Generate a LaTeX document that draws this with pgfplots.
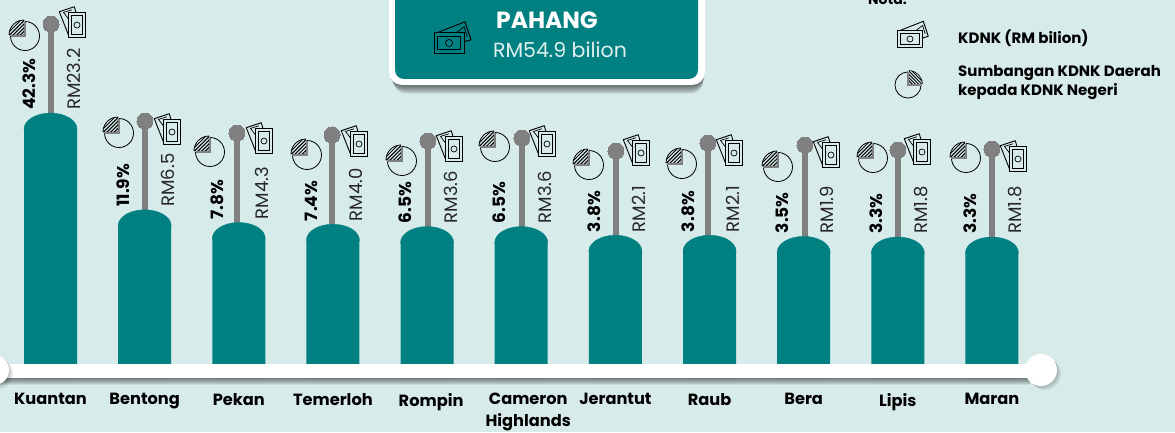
\documentclass[border=0pt]{standalone}
\usepackage{fontspec}
\usepackage{pgfplots}
\usepackage{pgfplotstable}
\pgfplotsset{compat=1.18}
\setmainfont{Poppins}
\definecolor{bg}{HTML}{D7EBEA}
\definecolor{tealbar}{HTML}{008080}
\definecolor{stem}{HTML}{808080}

% value, share of state GDP
\pgfplotstableread{
x gdp share
0 23.2 42.3
1 6.5 11.9
2 4.3 7.8
3 4.0 7.4
4 3.6 6.5
5 3.6 6.5
6 2.1 3.8
7 2.1 3.8
8 1.9 3.5
9 1.8 3.3
10 1.8 3.3
}\kdnk

% where the stem tops and the icons sit, in picture pixels
\pgfplotstableread{
sx sy px py mx my
51 24 25 36 77 25
145 121 119 133 172 132
237 133 210 152 264 141
332 135 307 155 359 144
428 141 402 161 454 149
522 138 495 147 547 144
616 151 589 165 641 153
708 143 682 164 734 153
805 145 778 167 831 155
898 150 873 158 922 152
992 149 966 158 1018 159
}\icons

\newcommand{\moneyicon}{%
  \draw[black,line width=1pt] (-8.5,-12.5) rectangle (8.5,12.5);
  \draw[black,line width=.7pt] (-5.5,-9.5) rectangle (5.5,9.5);
  \draw[black,line width=.7pt] (0,0) circle (3);
  \draw[black,line width=.9pt,line join=round] (-8.5,-10) -- (-17.7,13.3) -- (-2.7,18.3) -- (-1,12.5);
  \draw[black,line width=.7pt] (-8.5,6) -- (-13.5,12.6) -- (-5,15.2);
}
\newcommand{\pieicon}{%
  \draw[black,line width=.8pt] (0,14.5) arc (90:-180:14.5);
  \begin{scope}
    \clip (-1,1) -- (-16,1) arc (180:90:15) -- cycle;
    \foreach \k in {-18,-14.4,...,4} {
      \draw[black,line width=1pt] (\k-4,-2) -- (\k+18,20);
    }
  \end{scope}
  \draw[black,line width=.6pt] (-16,1) arc (180:90:15);
  \draw[stem,line width=1.5pt] (-14.5,0) -- (0,0) -- (0,14);
}
% top of a bar, origin at its shoulder
\pgfdeclareplotmark{dome}{%
  \begin{scope}[x=1pt,y=1pt]
    \fill[tealbar] (-26.5,-.5) -- (-26.5,0) arc (180:0:26.5 and 16) -- (26.5,-.5) -- cycle;
  \end{scope}
}
\pgfdeclareplotmark{money}{\begin{scope}[x=1pt,y=1pt]\moneyicon\end{scope}}
\pgfdeclareplotmark{pie}{\begin{scope}[x=1pt,y=1pt]\pieicon\end{scope}}

\begin{document}
\begin{tikzpicture}[x=1pt,y=1pt]
\path[use as bounding box] (0,0) rectangle (1175,432);
\clip (0,0) rectangle (1175,432);
\fill[bg] (0,0) rectangle (1175,432);

\begin{axis}[
    at={(0pt,54pt)}, anchor=south west,
    scale only axis, width=1175pt, height=378pt,
    xmin=-0.5364, xmax=11.944,
    ymin=0, ymax=65.285,
    axis line style={draw=none},
    tick style={draw=none},
    ytick=\empty,
    xtick={0,...,10},
    xticklabels={Kuantan,Bentong,Pekan,Temerloh,\hspace*{8pt}Rompin,\hspace*{14pt}Cameron\\\hspace*{14pt}Highlands,Jerantut,Raub,Bera,Lipis,Maran},
    xticklabel style={font=\fontsize{16.2}{22}\selectfont\bfseries, align=center, anchor=north, inner sep=0pt, yshift=-15pt},
    clip=false,
]
% stems with their round heads
\addplot[ycomb, stem, line width=5.4pt, mark=*, mark size=8pt, mark options={fill=stem, draw=stem, line width=0pt}]
    table[x expr=(\thisrow{sx}-50.5)/94.15, y expr=(378-\thisrow{sy})/5.79] {\icons};
% bars and their domed tops
\addplot[ybar, bar width=53pt, bar shift=0pt, fill=tealbar, draw=none]
    table[x=x, y expr=\thisrow{gdp}+19.79] {\kdnk};
\addplot[only marks, mark=dome]
    table[x=x, y expr=\thisrow{gdp}+19.79] {\kdnk};
% icons
\addplot[only marks, mark=money]
    table[x expr=(\thisrow{mx}-50.5)/94.15, y expr=(378-\thisrow{my})/5.79] {\icons};
\addplot[only marks, mark=pie]
    table[x expr=(\thisrow{px}-50.5)/94.15, y expr=(378-\thisrow{py})/5.79] {\icons};
% rotated labels
\addplot[only marks, mark=none, point meta=explicit symbolic,
    nodes near coords={RM\pgfplotspointmeta},
    every node near coord/.style={xshift=23.5pt, yshift=19pt, rotate=90, anchor=west, inner sep=0pt, font=\fontsize{18}{18}\selectfont, text=black!85}]
    table[x=x, y expr=\thisrow{gdp}+19.79, meta=gdp] {\kdnk};
\addplot[only marks, mark=none, point meta=explicit symbolic,
    nodes near coords={\pgfplotspointmeta\%},
    every node near coord/.style={xshift=-21.5pt, yshift=19pt, rotate=90, anchor=west, inner sep=0pt, font=\fontsize{17}{17}\selectfont\bfseries, text=black}]
    table[x=x, y expr=\thisrow{gdp}+19.79, meta=share] {\kdnk};
\end{axis}

% white base line with its shadow
\foreach \i in {1,...,7} {
  \fill[black,opacity=.08] (-10,54-\i) rectangle (1030,68-\i);
}
\fill[white] (-10,54) rectangle (1040,68);
\foreach \i in {1,...,4} {
  \fill[black,opacity=.06] (1041+\i,62-\i) circle (16);
  \fill[black,opacity=.06] (-6+\i,62-\i) circle (15);
}
\fill[white] (1041,62) circle (16);
\fill[white] (-6,62) circle (15);

% state box
\foreach \i in {1,...,9} {
  \fill[black,opacity=.07,rounded corners=13pt] (389+.5*\i,347-\i) rectangle (705-.2*\i,450);
}
\fill[white,rounded corners=13pt] (389,347) rectangle (705,450);
\fill[tealbar,rounded corners=9pt] (395,353) rectangle (698,450);
\node[text=white,font=\fontsize{23.4}{23}\selectfont\bfseries,inner sep=0pt] at (547,412) {PAHANG};
\node[text=white!88!tealbar,font=\fontsize{20.5}{21}\selectfont,inner sep=0pt] at (560,382) {RM54.9 bilion};
\begin{scope}[shift={(449,389)},scale=1.2,transform shape]
  \begin{scope}[rotate=-90]\moneyicon\end{scope}
\end{scope}

% legend
\node[anchor=west,font=\fontsize{14}{14}\selectfont\bfseries,inner sep=0pt] at (868,432) {Nota:};
\begin{scope}[shift={(910,393)},rotate=-90]\moneyicon\end{scope}
\begin{scope}[shift={(908,347)},xscale=-.9,yscale=.9]\pieicon\end{scope}
\node[anchor=west,font=\fontsize{15}{15}\selectfont\bfseries,inner sep=0pt] at (958,394) {KDNK (RM bilion)};
\node[anchor=north west,align=left,font=\fontsize{15}{19}\selectfont\bfseries,inner sep=0pt] at (958,367) {Sumbangan KDNK Daerah\\kepada KDNK Negeri};
\end{tikzpicture}
\end{document}
